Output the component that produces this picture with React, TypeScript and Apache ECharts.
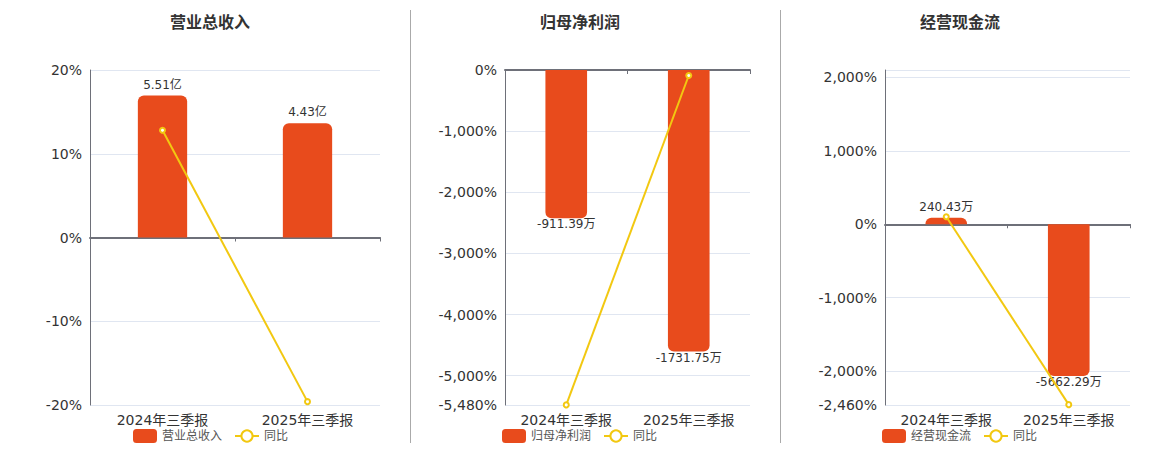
import { useEffect, useRef } from 'react'
import * as echarts from 'echarts'

const periods = ['2024年三季报', '2025年三季报']
const titles = ['营业总收入', '归母净利润', '经营现金流']
const units = ['亿', '万', '万']

const revenue = [5.51, 4.43]
const netProfit = [-911.39, -1731.75]
const cashFlow = [240.43, -5662.29]

const revenueYoy = [12.8, -19.6]
const netProfitYoy = [-5478, -90.01]
const cashFlowYoy = [102, -2455.08]

// left (同比) axis range and hidden bar axis range per panel
const yoyMin = [-20, -5480, -2460]
const yoyMax = [20, 0, 2100]
const barMin = [-6.5, -2060, -6745]
const barMax = [6.5, 0, 5755]

const BAR_COLOR = '#E84B1C'
const LINE_COLOR = '#F2C811'
const FONT = 'DejaVu Sans, "Noto Sans CJK SC", sans-serif'

export default function App() {
  const chartRef = useRef<HTMLDivElement>(null)

  useEffect(() => {
    if (!chartRef.current) return
    const chart = echarts.init(chartRef.current, undefined, { renderer: 'svg' })

    const barSeries = [revenue, netProfit, cashFlow]
    const yoySeries = [revenueYoy, netProfitYoy, cashFlowYoy]
    const gridLeft = [90, 505, 885]
    const gridWidth = [290, 245, 245]
    const centerX = [210, 580, 960]
    const legendLeft = [133, 502, 882]

    const grid: any[] = []
    const xAxis: any[] = []
    const yAxis: any[] = []
    const series: any[] = []
    const legend: any[] = []
    const graphic: any[] = []

    titles.forEach((title, i) => {
      grid.push({ left: gridLeft[i], width: gridWidth[i], top: 70, height: 335 })

      // axis line sitting on zero, ticks only
      xAxis.push({
        type: 'category',
        gridIndex: i,
        data: periods,
        axisLine: { onZero: true, lineStyle: { color: '#6E7079', width: 2 } },
        axisTick: { show: true, length: 4, lineStyle: { color: '#6E7079' } },
        axisLabel: { show: false }
      })
      // labels at the bottom of the grid
      xAxis.push({
        type: 'category',
        gridIndex: i,
        data: periods,
        position: 'bottom',
        axisLine: { show: false, onZero: false },
        axisTick: { show: false },
        axisLabel: { fontSize: 14, color: '#333', fontFamily: FONT, margin: 8 }
      })

      yAxis.push({
        type: 'value',
        gridIndex: i,
        min: yoyMin[i],
        max: yoyMax[i],
        axisLine: { show: true, lineStyle: { color: '#6E7079' } },
        axisTick: { show: false },
        axisLabel: {
          fontSize: 14,
          color: '#333',
          fontFamily: FONT,
          margin: 8,
          formatter: (v: number) => v.toLocaleString('en-US') + '%'
        },
        splitLine: { lineStyle: { color: '#E0E6F1' } }
      })
      yAxis.push({
        type: 'value',
        gridIndex: i,
        show: false,
        min: barMin[i],
        max: barMax[i],
        splitLine: { show: false }
      })

      series.push({
        name: title,
        type: 'bar',
        xAxisIndex: i * 2,
        yAxisIndex: i * 2 + 1,
        barWidth: '34%',
        data: barSeries[i].map((v) => ({
          value: v,
          itemStyle: { borderRadius: v >= 0 ? [6, 6, 0, 0] : [0, 0, 6, 6] },
          label: v >= 0 ? { position: 'top', distance: 5 } : { position: 'bottom', distance: 0 }
        })),
        itemStyle: { color: BAR_COLOR },
        label: {
          show: true,
          fontSize: 12,
          color: '#333',
          fontFamily: FONT,
          formatter: (p: any) => p.value.toFixed(2) + units[i]
        }
      })

      series.push({
        name: '同比',
        type: 'line',
        xAxisIndex: i * 2,
        yAxisIndex: i * 2,
        data: yoySeries[i],
        symbol: 'emptyCircle',
        symbolSize: 5,
        lineStyle: { color: LINE_COLOR, width: 2 },
        itemStyle: { color: LINE_COLOR },
        z: 5
      })

      legend.push({
        left: legendLeft[i],
        top: 429,
        padding: 0,
        itemWidth: 24,
        itemHeight: 14,
        itemGap: 12,
        data: [title, '同比'],
        textStyle: { fontSize: 12, color: '#555', fontFamily: FONT }
      })

      graphic.push({
        type: 'text',
        x: centerX[i],
        y: 22,
        style: {
          text: title,
          fill: '#333',
          font: `bold 16px ${FONT}`,
          textAlign: 'center',
          textVerticalAlign: 'middle'
        }
      })
    })

    graphic.push(
      { type: 'line', shape: { x1: 410.5, y1: 10, x2: 410.5, y2: 443 }, style: { stroke: '#AAAAAA', lineWidth: 1 } },
      { type: 'line', shape: { x1: 780.5, y1: 10, x2: 780.5, y2: 443 }, style: { stroke: '#AAAAAA', lineWidth: 1 } }
    )

    chart.setOption({
      animation: false,
      backgroundColor: '#fff',
      grid,
      xAxis,
      yAxis,
      series,
      legend,
      graphic
    })

    return () => {
      chart.dispose()
    }
  }, [])

  return (
    <div
      ref={chartRef}
      style={{ position: 'absolute', left: 0, top: 0, width: '1160px', height: '450px' }}
    />
  )
}
